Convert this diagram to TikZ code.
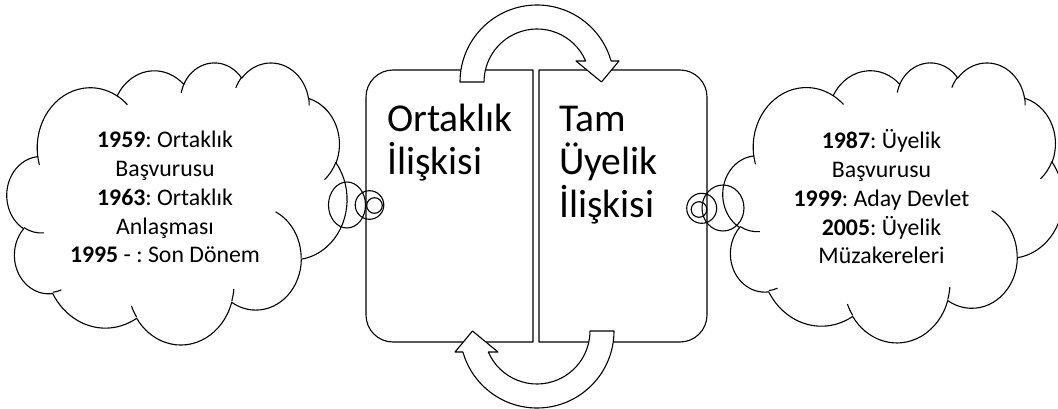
\documentclass[tikz,border=0pt]{standalone}
\usepackage{fontspec}
\setmainfont{Carlito}
\usepackage{tikz}
% OOXML visual arc angle -> TikZ parametric angle (path space)
\newcommand\ooang[5]{%
  \pgfmathsetmacro\ooTs{atan2((#2)*sin(#4),(#3)*cos(#4))}%
  \pgfmathsetmacro\ooTe{atan2((#2)*sin((#4)+(#5)),(#3)*cos((#4)+(#5)))}%
  \pgfmathsetmacro\ooD{\ooTe-\ooTs}%
  \pgfmathsetmacro\ooD{(#5)>0 ? (\ooD<0 ? \ooD+360 : \ooD) : (\ooD>0 ? \ooD-360 : \ooD)}%
  \expandafter\global\expandafter\let\csname oo#1s\endcsname\ooTs
  \expandafter\global\expandafter\let\csname oo#1d\endcsname\ooD
}
\ooang{cA}{675.3}{919.0}{-190.4875}{123.7805}
\ooang{cB}{533.3}{726.7}{-144.1024}{89.9452}
\ooang{cC}{436.5}{594.5}{-145.8079}{99.7230}
\ooang{cD}{485.7}{659.5}{-130.9861}{117.2417}
\ooang{cE}{533.3}{727.3}{-78.7089}{109.0269}
\ooang{cF}{677.5}{922.0}{-46.2673}{130.2690}
\ooang{cG}{578.5}{786.7}{0.6250}{114.0333}
\ooang{cH}{675.2}{921.5}{22.4516}{115.1726}
\ooang{cI}{772.0}{1054.3}{66.2426}{75.7110}
\ooang{cJ}{436.0}{591.8}{-274.9421}{146.7356}
\ooang{cK}{434.5}{594.5}{-246.8285}{152.5189}
\ooang{iA}{434.5}{594.5}{86.7420}{26.4295}
\ooang{iB}{436.0}{591.8}{73.6105}{11.4475}
\ooang{iC}{675.2}{921.5}{137.6242}{14.0811}
\ooang{iD}{675.2}{921.5}{6.4533}{15.9984}
\ooang{iE}{578.5}{786.7}{-70.2924}{70.9174}
\ooang{iF}{533.3}{727.3}{30.3180}{27.7515}
\ooang{iG}{485.7}{659.5}{-13.7443}{14.8589}
\ooang{iH}{485.7}{659.5}{-149.1815}{18.1954}
\ooang{iI}{436.5}{594.5}{-163.4943}{17.6864}
\ooang{iJ}{675.3}{919.0}{-66.7070}{12.3194}
\ooang{iK}{675.3}{919.0}{157.6544}{11.8582}
\newcommand\cloudshape[4]{%
  \pgfmathsetmacro\cloudw{#3/4320}\pgfmathsetmacro\cloudh{#4/4320}%
  \begin{scope}[shift={(#1,#2)},x=\cloudw pt,y=-\cloudh pt]
    \draw[shapeline,fill=white] (390,1437)
      arc[start angle=\oocAs, delta angle=\oocAd, x radius=675.3, y radius=919.0]
      arc[start angle=\oocBs, delta angle=\oocBd, x radius=533.3, y radius=726.7]
      arc[start angle=\oocCs, delta angle=\oocCd, x radius=436.5, y radius=594.5]
      arc[start angle=\oocDs, delta angle=\oocDd, x radius=485.7, y radius=659.5]
      arc[start angle=\oocEs, delta angle=\oocEd, x radius=533.3, y radius=727.3]
      arc[start angle=\oocFs, delta angle=\oocFd, x radius=677.5, y radius=922.0]
      arc[start angle=\oocGs, delta angle=\oocGd, x radius=578.5, y radius=786.7]
      arc[start angle=\oocHs, delta angle=\oocHd, x radius=675.2, y radius=921.5]
      arc[start angle=\oocIs, delta angle=\oocId, x radius=772.0, y radius=1054.3]
      arc[start angle=\oocJs, delta angle=\oocJd, x radius=436.0, y radius=591.8]
      arc[start angle=\oocKs, delta angle=\oocKd, x radius=434.5, y radius=594.5]
      -- cycle;
    \draw[shapeline] (469.3,2617.7) arc[start angle=\ooiAs, delta angle=\ooiAd, x radius=434.5, y radius=594.5];
    \draw[shapeline] (692.8,3489.9) arc[start angle=\ooiBs, delta angle=\ooiBd, x radius=436.0, y radius=591.8];
    \draw[shapeline] (1647.8,3909.0) arc[start angle=\ooiCs, delta angle=\ooiCd, x radius=675.2, y radius=921.5];
    \draw[shapeline] (2882.7,3475.1) arc[start angle=\ooiDs, delta angle=\ooiDd, x radius=675.2, y radius=921.5];
    \draw[shapeline] (3412.9,2295.4) arc[start angle=\ooiEs, delta angle=\ooiEd, x radius=578.5, y radius=786.7];
    \draw[shapeline] (4179.8,1535.4) arc[start angle=\ooiFs, delta angle=\ooiFd, x radius=533.3, y radius=727.3];
    \draw[shapeline] (3832.4,542.6) arc[start angle=\ooiGs, delta angle=\ooiGd, x radius=485.7, y radius=659.5];
    \draw[shapeline] (2907.8,395.2) arc[start angle=\ooiHs, delta angle=\ooiHd, x radius=485.7, y radius=659.5];
    \draw[shapeline] (2214.1,472.0) arc[start angle=\ooiIs, delta angle=\ooiId, x radius=436.5, y radius=594.5];
    \draw[shapeline] (1400.0,519.2) arc[start angle=\ooiJs, delta angle=\ooiJd, x radius=675.3, y radius=919.0];
    \draw[shapeline] (412.7,1578.9) arc[start angle=\ooiKs, delta angle=\ooiKd, x radius=675.3, y radius=919.0];
  \end{scope}}
\newcommand\circarrow{%
  \draw[shapeline,fill=white] (460,82) arc[start angle=180, end angle=344.17, radius=77]
    -- (619,61) -- (601.5,82) -- (576,61) -- (585.7,61)
    arc[start angle=336.66, end angle=180, radius=53] -- cycle;}
\begin{document}
\begin{tikzpicture}[x=1pt,y=-1pt,
  shapeline/.style={line width=1.1pt,draw=black,line join=round},
  boxtext/.style={font=\frenchspacing\fontsize{39.5}{43}\selectfont,align=flush left,text width=145pt,inner sep=0pt},
  cloudtext/.style={font=\frenchspacing\fontsize{23.8}{28.7}\selectfont,align=flush center,text width=260pt,inner sep=0pt}]
\useasboundingbox (0,0) rectangle (1058,409);
\fill[white] (0,0) rectangle (1058,409);
\clip (0,0) rectangle (1058,409);
% clouds
\cloudshape{7}{62}{340}{282}
\cloudshape{723}{62}{340}{280}
% boxes
\draw[shapeline,fill=white] (533,70) -- (393,70) arc[start angle=270, end angle=180, radius=27]
  -- (366,315) arc[start angle=180, end angle=90, radius=27] -- (533,342) -- cycle;
\draw[shapeline,fill=white] (539,70) -- (680,70) arc[start angle=270, end angle=360, radius=27]
  -- (707,315) arc[start angle=0, end angle=90, radius=27] -- (539,342) -- cycle;
% circular arrows
\circarrow
\begin{scope}[rotate around={180:(537,206.5)}]
\circarrow
\end{scope}
% callout tails
\draw[shapeline] (347,205) ellipse[x radius=18.5, y radius=23];
\draw[shapeline] (369.5,205) circle[radius=14.3];
\draw[shapeline] (374.5,205.5) circle[radius=7.8];
\draw[shapeline] (723,208) ellipse[x radius=21, y radius=23];
\draw[shapeline] (701.7,208.3) circle[radius=15];
\draw[shapeline] (699,209.5) circle[radius=7.8];
% texts
\node[boxtext,anchor=base west] (ortak) at (387,132) {Ortaklık\\İlişkisi};
\node[boxtext,anchor=base west] (tam) at (559,132) {Tam\\Üyelik\\İlişkisi};
\node[cloudtext,anchor=base] (lefttext) at (165,148) {\textbf{1959}: Ortaklık\\Başvurusu\\\textbf{1963}: Ortaklık\\Anlaşması\\\textbf{1995} - : Son Dönem};
\node[cloudtext,anchor=base] (righttext) at (881.5,149) {\textbf{1987}: Üyelik\\Başvurusu\\\textbf{1999}: Aday Devlet\\\textbf{2005}: Üyelik\\Müzakereleri};
\end{tikzpicture}
\end{document}
